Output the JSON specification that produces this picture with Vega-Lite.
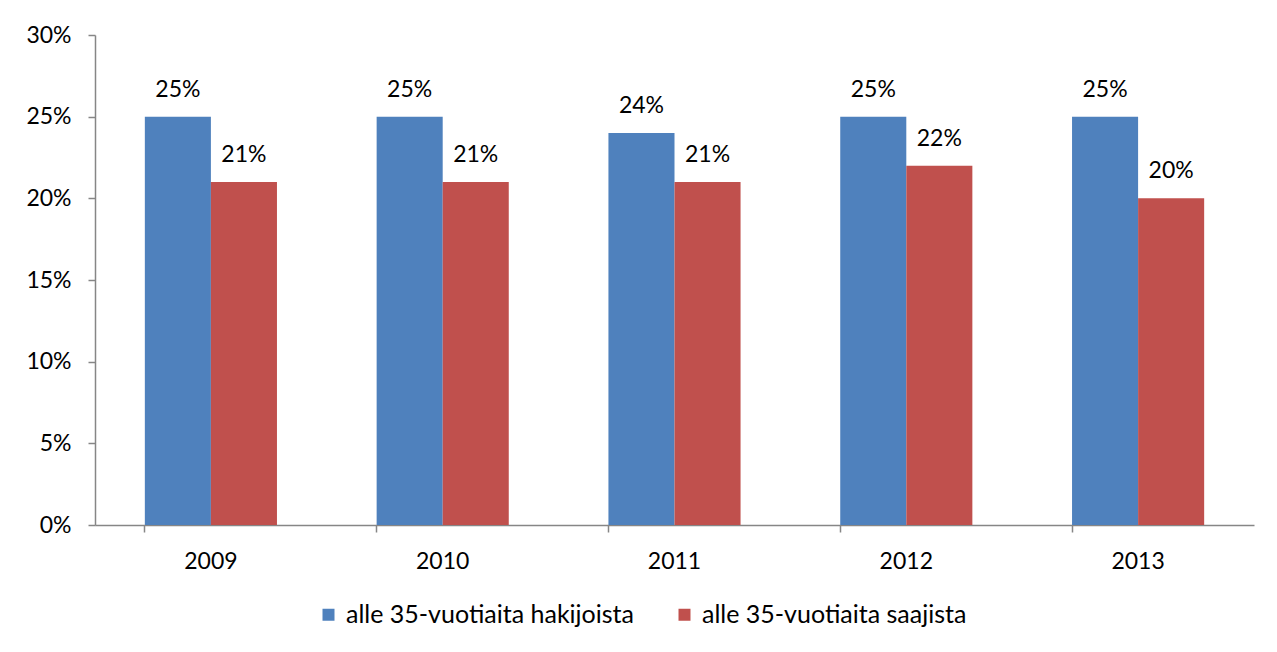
{
  "$schema": "https://vega.github.io/schema/vega-lite/v6.json",
  "width": 1159,
  "height": 490,
  "autosize": {"type": "none"},
  "padding": {"left": 95, "top": 35, "right": 23, "bottom": 127},
  "background": "white",
  "config": {
    "view": {"stroke": null},
    "font": "Lato",
    "axis": {"labelFont": "Lato", "labelFontSize": 23, "labelColor": "#000000", "domainColor": "#868686", "tickColor": "#868686", "grid": false, "title": null}
  },
  "data": {
    "values": [
      {"year": "2009", "series": "alle 35-vuotiaita hakijoista", "value": 0.25},
      {"year": "2009", "series": "alle 35-vuotiaita saajista", "value": 0.21},
      {"year": "2010", "series": "alle 35-vuotiaita hakijoista", "value": 0.25},
      {"year": "2010", "series": "alle 35-vuotiaita saajista", "value": 0.21},
      {"year": "2011", "series": "alle 35-vuotiaita hakijoista", "value": 0.24},
      {"year": "2011", "series": "alle 35-vuotiaita saajista", "value": 0.21},
      {"year": "2012", "series": "alle 35-vuotiaita hakijoista", "value": 0.25},
      {"year": "2012", "series": "alle 35-vuotiaita saajista", "value": 0.22},
      {"year": "2013", "series": "alle 35-vuotiaita hakijoista", "value": 0.25},
      {"year": "2013", "series": "alle 35-vuotiaita saajista", "value": 0.20}
    ]
  },
  "encoding": {
    "x": {
      "field": "year", "type": "nominal",
      "scale": {"paddingInner": 0.43, "paddingOuter": 0.215},
      "axis": {"labelAngle": 0, "bandPosition": 0, "tickSize": 7, "labelPadding": 18, "domainWidth": 1.5, "tickWidth": 1.5}
    },
    "xOffset": {"field": "series", "type": "nominal"},
    "y": {
      "field": "value", "type": "quantitative",
      "scale": {"domain": [0, 0.3], "nice": false},
      "axis": {"format": ".0%", "values": [0, 0.05, 0.1, 0.15, 0.2, 0.25, 0.3], "tickSize": 7, "labelPadding": 17, "domainWidth": 1.5, "tickWidth": 1.5}
    }
  },
  "layer": [
    {
      "mark": {"type": "bar"},
      "encoding": {
        "color": {
          "field": "series", "type": "nominal",
          "scale": {"range": ["#4F81BD", "#C0504D"]},
          "legend": {
            "title": null, "orient": "none", "direction": "horizontal",
            "legendX": 221, "legendY": 567,
            "symbolType": "square", "symbolSize": 144, "symbolStrokeWidth": 0,
            "labelFont": "Lato", "labelFontSize": 25, "labelColor": "#000000", "labelLimit": 0,
            "columnPadding": 38, "labelOffset": 5
          }
        }
      }
    },
    {
      "mark": {"type": "text", "baseline": "bottom", "dy": -15, "fontSize": 23, "font": "Lato", "color": "#000000"},
      "encoding": {
        "text": {"field": "value", "type": "quantitative", "format": ".0%"}
      }
    }
  ]
}
